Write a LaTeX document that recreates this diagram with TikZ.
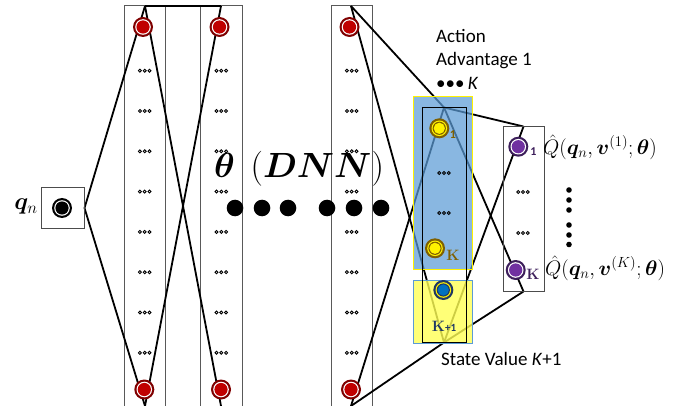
\RequirePackage{fix-cm}
\documentclass[tikz,border=0pt]{standalone}
\usepackage{amsmath}
\usepackage{bm}
\usepackage{fontspec}
\newfontfamily\calfont{Carlito}
\usetikzlibrary{calc}
\pgfdeclarelayer{bg}
\pgfdeclarelayer{mid}
\pgfsetlayers{bg,mid,main}
\definecolor{ringred}{HTML}{7F0000}
\definecolor{fillred}{HTML}{C00000}
\definecolor{darkgold}{HTML}{7F6000}
\definecolor{ringpurple}{HTML}{3C1E5A}
\definecolor{fillpurple}{HTML}{7030A0}
\definecolor{navyblue}{HTML}{1F3864}
\definecolor{fillblue}{HTML}{0070C0}
\definecolor{overblue}{HTML}{5B9BD5}
\definecolor{overyellow}{HTML}{FFFF55}
\tikzset{
  neuron/.style n args={4}{circle, inner sep=0pt, minimum size=20pt, fill=#1,
    path picture={
      \fill[#2] (path picture bounding box.center) circle (7.8pt);
      \fill[#3] (path picture bounding box.center) circle (6.6pt);
      \fill[#4] (path picture bounding box.center) circle (5.6pt);}},
  redn/.style={neuron={ringred}{white}{fillred}{fillred}},
  yellown/.style={neuron={darkgold}{yellow}{darkgold}{yellow}},
  purplen/.style={neuron={ringpurple}{white}{fillpurple}{fillpurple}},
  bluen/.style={neuron={navyblue}{yellow}{navyblue}{fillblue}},
  inputn/.style={neuron={black}{white}{black}{black}},
  layerbox/.style={draw=black!65, line width=1pt, inner sep=0pt, minimum width=41pt, minimum height=414pt},
  framebox/.style={draw=black!70, line width=1pt, inner sep=0pt},
  conn/.style={line width=1.8pt, black},
  tinydots/.style={minimum width=15pt, minimum height=5pt, inner sep=0pt,
    path picture={\foreach \dx in {-4.8,0,4.8}
      \draw[line width=0.9pt, black] ([xshift=\dx pt]path picture bounding box.center) circle (1.5pt);}},
  bigdot/.style={circle, fill=black, inner sep=0pt, minimum size=16.6pt},
  smalldot/.style={circle, fill=black, inner sep=0pt, minimum size=5.6pt},
  sidetxt/.style={font=\calfont\fontsize{19}{23.5}\selectfont, inner sep=0pt},
  idx/.style={font=\calfont\bfseries\fontsize{12}{12}\selectfont, inner sep=0pt},
  kidx/.style={font=\bfseries\fontsize{15}{15}\selectfont, inner sep=0pt},
  qlabel/.style={anchor=west, inner sep=0pt, font=\fontsize{21}{21}\selectfont}
}
\begin{document}
\begin{tikzpicture}[x=1pt,y=-1pt]
\useasboundingbox (0,0) rectangle (693,406);
\clip (0,0) rectangle (693,406);

% layer columns
\begin{pgfonlayer}{bg}
\node[layerbox] (col1) at (144.5,213) {};
\node[layerbox, minimum width=42pt] (col2) at (221,213) {};
\node[layerbox] (col3) at (351.5,213) {};
\end{pgfonlayer}

% input
\node[framebox, minimum width=43pt, minimum height=40pt] (inbox) at (62.5,208) {};
\node[inputn] (in) at (62,208) {};
\node[anchor=east, inner sep=0pt, font=\fontsize{24}{24}\selectfont] (qn) at (38,207) {$\bm{q}_n$};

% apex coordinates
\coordinate (t1) at (145,6);
\coordinate (b1) at (145,406);
\coordinate (t2) at (221,6);
\coordinate (b2) at (221,406);
\coordinate (t3) at (351,6);
\coordinate (b3) at (351,406);

% red neurons
\node[redn] (r1t) at (143,27) {};
\node[redn] (r1b) at (144.3,389.5) {};
\node[redn] (r2t) at (219.5,27) {};
\node[redn] (r2b) at (221,389.5) {};
\node[redn] (r3t) at (349.5,27) {};
\node[redn] (r3b) at (351,389.5) {};

% small dots in hidden columns
\foreach \k in {0,...,7} {
  \node[tinydots] (d1-\k) at (144.7,{70.7+40.3*\k}) {};
  \node[tinydots] (d2-\k) at (221.3,{70.7+40.3*\k}) {};
  \node[tinydots] (d3-\k) at (351.7,{70.7+40.3*\k}) {};
}

% overlays
\begin{pgfonlayer}{mid}
\node[fill=overblue, fill opacity=0.72, draw=yellow, line width=0.9pt, inner sep=0pt,
  minimum width=59pt, minimum height=173pt] (advov) at (442.5,182.5) {};
\node[fill=overyellow, fill opacity=0.8, draw=overblue, line width=0.9pt, inner sep=0pt,
  minimum width=59pt, minimum height=63pt] (valov) at (442.5,311.5) {};
\end{pgfonlayer}

% advantage / value column
\node[draw=black, line width=1pt, inner sep=0pt, minimum width=44pt, minimum height=234pt] (aa) at (444,225) {};
\node[yellown] (y1) at (439.3,128.3) {};
\node[idx, text=darkgold] (y1l) at (453,134.5) {1};
\node[tinydots] (ad1) at (444,173) {};
\node[tinydots] (ad2) at (444,213) {};
\node[yellown] (yk) at (435,248.3) {};
\node[kidx, text=darkgold] (ykl) at (453,255) {K};
\node[bluen] (sv) at (443.3,290) {};
\node[inner sep=0pt, text=navyblue] (svl) at (444,326) {{\bfseries\fontsize{15}{15}\selectfont K}{\calfont\bfseries\fontsize{11}{11}\selectfont +1}};

% Q column
\node[framebox, minimum width=41pt, minimum height=164pt] (qbox) at (523.5,209) {};
\node[purplen] (p1) at (518.3,146.7) {};
\node[idx, text=ringpurple] (p1l) at (533.3,152) {1};
\node[tinydots] (qd1) at (523,192) {};
\node[tinydots] (qd2) at (523,233) {};
\node[purplen] (pk) at (515.7,270) {};
\node[kidx, text=ringpurple] (pkl) at (533,274) {K};

% Q labels
\node[qlabel] (q1) at (543,147) {$\hat{Q}(\bm{q}_n,\bm{v}^{(1)};\bm{\theta})$};
\node[qlabel] (qk) at (545,268) {$\hat{Q}(\bm{q}_n,\bm{v}^{(K)};\bm{\theta})$};
\foreach \yy [count=\i] in {190,200,210,225,235,244.5}
  \node[smalldot] (vd\i) at (569,\yy) {};

% text labels
\node[sidetxt, anchor=north west, align=left] (act) at (436,29) {Action\\Advantage 1\\•••\,\textit{K}};
\node[sidetxt, anchor=base west] (sval) at (441,365) {State Value \textit{K}+1};

% big theta label and dots
\node[inner sep=0pt, font=\fontsize{35}{35}\selectfont] (theta) at (299,169) {$\bm{\theta}\hspace{0.45em}(\bm{DNN})$};
\foreach \xx [count=\i] in {235,262,288,327,354,381}
  \node[bigdot] (bd\i) at (\xx,208) {};

% connectors
\begin{pgfonlayer}{bg}
\draw[conn] (inbox.east) -- (t1);
\draw[conn] (inbox.east) -- (b1);
\draw[conn] (t1) -- (t2);
\draw[conn] (t1) -- (b2);
\draw[conn] (b1) -- (t2);
\draw[conn] (t3) -- (aa.north);
\draw[conn] (t3) -- (aa.south);
\draw[conn] (b3) -- (aa.north);
\draw[conn] (b3) -- (aa.south);
\draw[conn] (aa.north) -- (qbox.north);
\draw[conn] (aa.north) -- (qbox.south);
\draw[conn] (aa.south) -- (qbox.north);
\draw[conn] (aa.south) -- (qbox.south);
\end{pgfonlayer}
\end{tikzpicture}
\end{document}
